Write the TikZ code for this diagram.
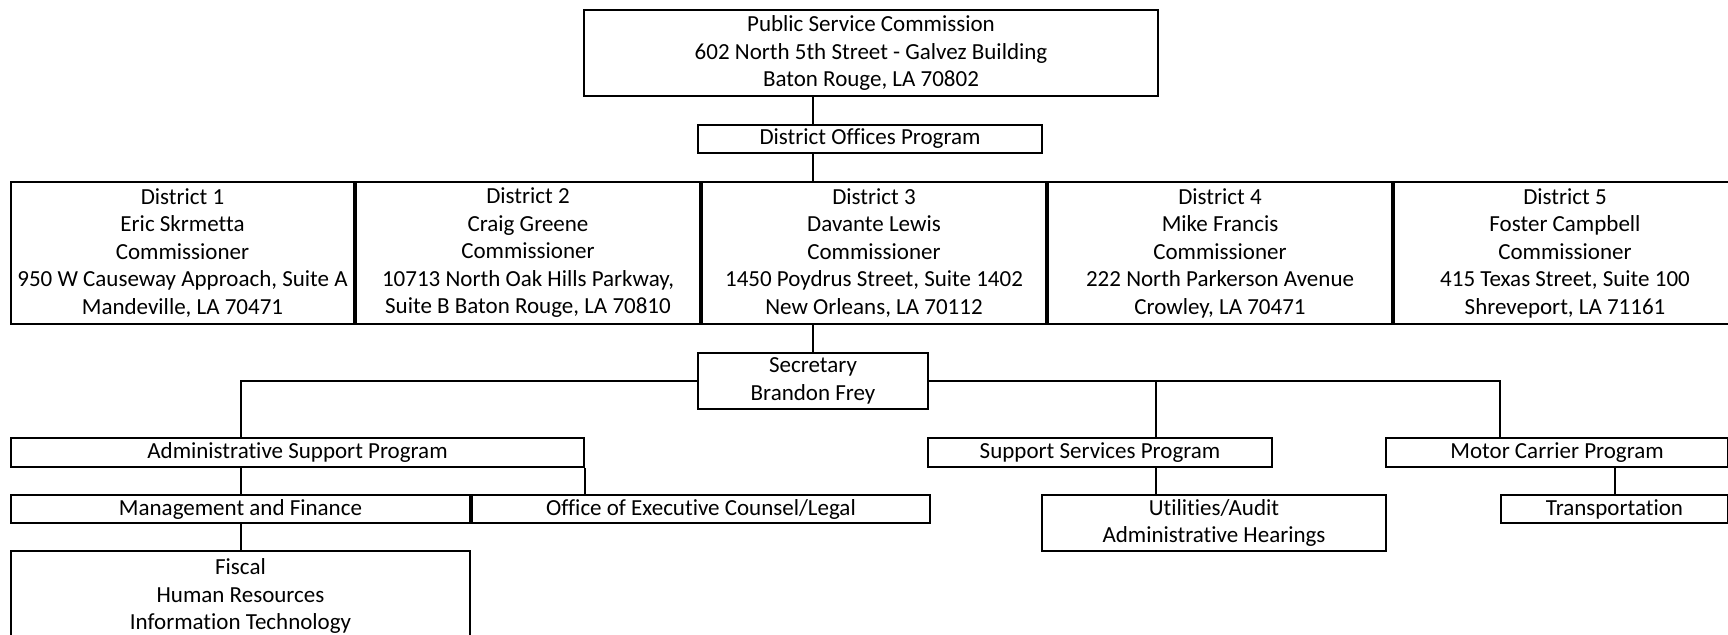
\documentclass[tikz,border=0pt]{standalone}
\usepackage{fontspec}
\setmainfont{Carlito}[Ligatures=NoCommon]
\usetikzlibrary{positioning}

\begin{document}
\begin{tikzpicture}[x=1pt, y=-1pt, line width=2pt, node distance=0pt,
org node/.style={draw, anchor=north west, align=center, inner sep=0pt,
font=\fontsize{23}{27.5}\selectfont},
district node/.style={org node, minimum width=344pt, minimum height=142pt},
program node/.style={org node, minimum height=29pt}]

\useasboundingbox (0,0) rectangle (1728,634);

\node[org node, minimum width=574pt, minimum height=86pt] (psc) at (583,9)
{Public Service Commission\\602 North 5th Street - Galvez Building\\Baton Rouge, LA 70802};
\node[program node, minimum width=344pt, minimum height=28pt] (dop) at (697,124) {District Offices Program};

\node[district node, minimum width=343pt] (d1) at (10,181)
{District 1\\Eric Skrmetta\\Commissioner\\950 W Causeway Approach, Suite A\\Mandeville, LA 70471};
\node[district node] (d2) [right=of d1.north east, anchor=north west]
{District 2\\Craig Greene\\Commissioner\\10713 North Oak Hills Parkway,\\Suite B Baton Rouge, LA 70810};
\node[district node] (d3) [right=of d2.north east, anchor=north west]
{District 3\\Davante Lewis\\Commissioner\\1450 Poydrus Street, Suite 1402\\New Orleans, LA 70112};
\node[district node] (d4) [right=of d3.north east, anchor=north west]
{District 4\\Mike Francis\\Commissioner\\222 North Parkerson Avenue\\Crowley, LA 70471};
\node[district node, minimum width=342pt] (d5) [right=of d4.north east, anchor=north west]
{District 5\\Foster Campbell\\Commissioner\\415 Texas Street, Suite 100\\Shreveport, LA 71161};

\node[org node, minimum width=230pt, minimum height=56pt] (sec) at (697,352) {Secretary\\Brandon Frey};

\node[program node, minimum width=573pt] (asp) at (10,437) {Administrative Support Program};
\node[program node, minimum width=344pt] (ssp) at (927,437) {Support Services Program};
\node[program node, minimum width=342pt] (mcp) at (1385,437) {Motor Carrier Program};

\node[org node, minimum width=459pt, minimum height=28pt] (mf) at (10,494) {Management and Finance};
\node[org node, minimum width=458pt, minimum height=28pt] (oec) [right=of mf.north east, anchor=north west]
{Office of Executive Counsel/Legal};
\node[org node, minimum width=344pt, minimum height=56pt] (ua) at (1041,494)
{Utilities/Audit\\Administrative Hearings};
\node[org node, minimum width=227pt, minimum height=28pt] (tr) at (1500,494) {Transportation};

\node[org node, minimum width=459pt, minimum height=90pt] (fis) at (10,550)
{Fiscal\\Human Resources\\Information Technology};

\coordinate (ssj) at (1156,437);

\draw (psc.south -| sec.north) -- (dop.north -| sec.north);
\draw (dop.south -| sec.north) -- (d3.north -| sec.north);
\draw (d3.south -| sec.north) -- (sec.north);
\draw (sec.west) -| (asp.north -| mf.north);
\draw (sec.east) -| (mcp.north -| tr.west);
\draw (sec.east -| ssj) -- (ssj);
\draw (asp.south -| mf.north) -- (mf.north);
\draw (asp.south east) -- (asp.south east |- oec.north);
\draw (ssp.south -| ssj) -- (ua.north -| ssj);
\draw (mcp.south -| tr.north) -- (tr.north);
\draw (mf.south) -- (fis.north);
\end{tikzpicture}
\end{document}
